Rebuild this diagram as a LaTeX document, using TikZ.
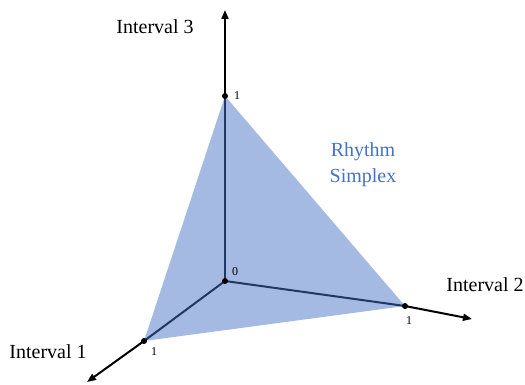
\documentclass[tikz,border=0pt]{standalone}
\usepackage{fontspec}
\setmainfont{Liberation Serif}
\usepackage{tikz}
\usetikzlibrary{arrows.meta,positioning}
\definecolor{simplexfill}{RGB}{164,186,226}
\definecolor{edgeblue}{RGB}{31,56,100}
\definecolor{labelblue}{RGB}{68,114,196}

\begin{document}
\begin{tikzpicture}[
  x=1pt, y=-1pt,
  axis/.style={line width=2pt, black, -{Triangle[length=9pt,width=7pt]}},
  edge/.style={line width=2pt, edgeblue},
  simplex/.style={fill=simplexfill},
  dot/.style={circle, fill=black, inner sep=0pt, minimum size=6pt},
  axislabel/.style={font=\fontsize{20}{26}\selectfont, inner sep=0pt},
  ticklabel/.style={font=\fontsize{12}{14}\selectfont, inner sep=0pt}
]
\useasboundingbox (0,0) rectangle (525,385);

% corners of the simplex and axis ends
\coordinate (O) at (225,281);
\coordinate (P1) at (144,341);
\coordinate (P2) at (405,306);
\coordinate (P3) at (225,96);
\coordinate (E1) at (87,382);
\coordinate (E2) at (472,319);
\coordinate (E3) at (225,10);

\fill[simplex] (P1) -- (P2) -- (P3) -- cycle;

\draw[axis] (P1) -- (E1);
\draw[axis] (P2) -- (E2);
\draw[axis] (P3) -- (E3);

\draw[edge] (O) -- (P1);
\draw[edge] (O) -- (P2);
\draw[edge] (O) -- (P3);

\node[dot] (d0) at (O) {};
\node[dot] (d1) at (P1) {};
\node[dot] (d2) at (P2) {};
\node[dot] (d3) at (P3) {};

\node[ticklabel] (t0) at (235,272) {0};
\node[ticklabel] (t1) at (154,352) {1};
\node[ticklabel] (t2) at (409,321) {1};
\node[ticklabel] (t3) at (237,96) {1};

\node[axislabel] (i1) at (48,352) {Interval 1};
\node[axislabel] (i2) at (485,285) {Interval 2};
\node[axislabel] (i3) at (155,27) {Interval 3};

\node[axislabel, text=labelblue, align=center] (name) at (363,165)
  {Rhythm\\Simplex};
\end{tikzpicture}
\end{document}
